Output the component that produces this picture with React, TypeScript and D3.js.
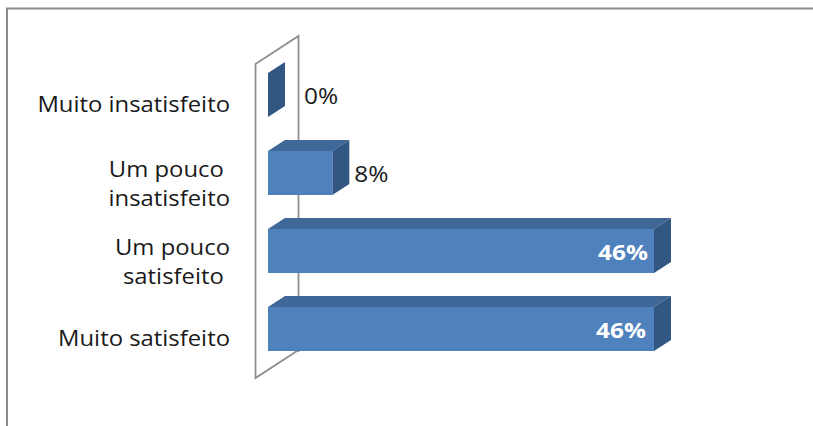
import React from "react";
import * as d3 from "d3";

const categories = ["Muito insatisfeito", "Um pouco insatisfeito", "Um pouco satisfeito", "Muito satisfeito"];
const categoryLines = [["Muito insatisfeito"], ["Um pouco ", "insatisfeito"], ["Um pouco", "satisfeito "], ["Muito satisfeito"]];
const values = [0, 7.69, 46.15, 46.15];
const valueLabels = ["0%", "8%", "46%", "46%"];

const FONT = "'Open Sans', Lato, sans-serif";
const DX = 17;
const DY = 11;
const STRETCH = 1.11;
const lineOffsets = [[17], [4, 33], [4, 33], [17]];

export default function App() {
  const x = d3.scaleLinear().domain([0, 46.15]).range([268, 654]);
  const y = d3.scaleBand<string>().domain(categories).range([56, 368]).paddingInner(0.436).paddingOuter(0.218);
  const h = y.bandwidth();
  const x0 = x(0);
  const wall = d3.line();

  return (
    <svg width={813} height={426} style={{ position: "absolute", left: 0, top: 0, background: "#fff" }}>
      <path d="M7,426V8.5H813" fill="none" stroke="#8c8c8c" strokeWidth={2} />
      <path
        d={wall([[298.5, 352], [298.5, 36], [255.5, 64], [255.5, 378], [298.5, 350]]) ?? ""}
        fill="none"
        stroke="#8f8f8f"
        strokeWidth={1.8}
      />
      {categories.map((c, i) => {
        const top = y(c)!;
        const right = x(values[i]);
        const inside = values[i] > 20;
        const labelX = inside ? right - 6 - (i === 3 ? 2 : 0) : right + DX + (i === 0 ? 19 : 5);
        return (
          <g key={c}>
            <path
              d={`M${x0},${top}L${x0 + DX},${top - DY}H${right + DX}L${right},${top}Z`}
              fill="#3f6797"
            />
            <path
              d={`M${right},${top}L${right + DX},${top - DY}V${top + h - DY}L${right},${top + h}Z`}
              fill="#325782"
            />
            {values[i] > 0 && <rect x={x0} y={top} width={right - x0} height={h} fill="#4f81bd" />}
            <text
              transform={`translate(${labelX},${top + h / 2 + 9}) scale(${STRETCH},1)`}
              textAnchor={inside ? "end" : "start"}
              fontFamily={FONT}
              fontSize={22}
              fontWeight={inside ? 700 : 400}
              fill={inside ? "#fff" : "#1a1a1a"}
            >
              {valueLabels[i]}
            </text>
            {categoryLines[i].map((line, j) => (
              <text
                key={j}
                transform={`translate(230,${top + h / 2 + lineOffsets[i][j]}) scale(${STRETCH},1)`}
                textAnchor="end"
                fontFamily={FONT}
                fontSize={21.5}
                fill="#1a1a1a"
                style={{ whiteSpace: "pre" }}
              >
                {line}
              </text>
            ))}
          </g>
        );
      })}
    </svg>
  );
}
